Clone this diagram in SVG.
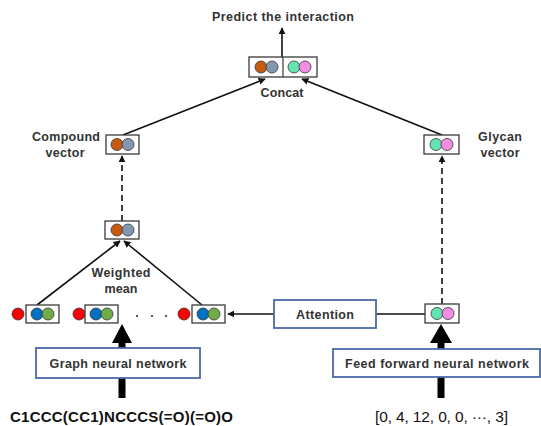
<svg xmlns="http://www.w3.org/2000/svg" width="541" height="426" viewBox="0 0 541 426">
<style>
text{font-family:"Liberation Sans",Arial,sans-serif;fill:#333;}
.lbl{font-size:12.5px;font-weight:bold;text-anchor:middle;}
.vbox{fill:#fff;stroke:#3a3a3a;stroke-width:1.3;}
.bbox{fill:#fff;stroke:#4a6aa8;stroke-width:1.8;}
.c{stroke:#333;stroke-width:0.8;}
.or{fill:#c55a11;}.bg{fill:#8497b0;}.mt{fill:#66e3b4;}.pk{fill:#f28de2;}
.rd{fill:#ff0000;}.bl{fill:#0070c0;}.gr{fill:#70ad47;}
.ln{stroke:#111;stroke-width:1.6;fill:none;}
.ds{stroke:#111;stroke-width:1.6;fill:none;stroke-dasharray:6,4;}
.thick{fill:#000;}
</style>
<defs>
<marker id="ah2" viewBox="0 0 10 10" refX="9" refY="5" markerWidth="7" markerHeight="7" orient="auto" markerUnits="userSpaceOnUse">
<path d="M0,0 L10,5 L0,10 z" fill="#111"/>
</marker>
</defs>

<g id="connectors">
<line class="ln" x1="282" y1="57" x2="282" y2="28" marker-end="url(#ah2)"/>
<line class="ln" x1="123" y1="135" x2="265" y2="79" marker-end="url(#ah2)"/>
<line class="ln" x1="442" y1="135" x2="302" y2="79" marker-end="url(#ah2)"/>
<line class="ds" x1="122" y1="221" x2="122" y2="156" marker-end="url(#ah2)"/>
<line class="ds" x1="442" y1="304" x2="442" y2="156" marker-end="url(#ah2)"/>
<line class="ln" x1="37" y1="305" x2="120" y2="241" marker-end="url(#ah2)"/>
<line class="ln" x1="202" y1="305" x2="124" y2="241" marker-end="url(#ah2)"/>
<line class="ln" x1="274" y1="314" x2="228" y2="314" marker-end="url(#ah2)"/>
<line class="ln" x1="376" y1="314" x2="425" y2="314"/>
<path class="thick" d="M118.5,343 L118.5,398 L125.5,398 L125.5,343 L132,343 L122,324 L112,343 Z"/>
<path class="thick" d="M437.5,343 L437.5,398 L444.5,398 L444.5,343 L452,343 L441,324 L430,343 Z"/>
</g>

<g id="title"><text class="lbl" x="283" y="21" font-size="11.5" textLength="142">Predict the interaction</text></g>

<g id="concat">
<rect class="vbox" x="249" y="57" width="68" height="20"/>
<line x1="283" y1="57" x2="283" y2="77" stroke="#3a3a3a" stroke-width="1.2"/>
<circle class="c or" cx="261" cy="67" r="6"/>
<circle class="c bg" cx="272" cy="67" r="6"/>
<circle class="c mt" cx="294" cy="67" r="6"/>
<circle class="c pk" cx="305" cy="67" r="6"/>
<text class="lbl" x="282" y="97" textLength="43">Concat</text>
</g>

<g id="compound-vector">
<rect class="vbox" x="106" y="135" width="33" height="19"/>
<circle class="c or" cx="117" cy="144.5" r="6"/>
<circle class="c bg" cx="128" cy="144.5" r="6"/>
<text class="lbl" x="66" y="140.5" textLength="68">Compound</text>
<text class="lbl" x="65" y="156.5" textLength="39">vector</text>
</g>

<g id="glycan-vector">
<rect class="vbox" x="424" y="135" width="35" height="19"/>
<circle class="c mt" cx="436" cy="144.5" r="6"/>
<circle class="c pk" cx="447" cy="144.5" r="6"/>
<text class="lbl" x="500" y="140.5" textLength="44">Glycan</text>
<text class="lbl" x="500" y="156.5" textLength="39">vector</text>
</g>

<g id="weighted-mean">
<rect class="vbox" x="105" y="221" width="34" height="18"/>
<circle class="c or" cx="117" cy="230" r="6"/>
<circle class="c bg" cx="128" cy="230" r="6"/>
<text class="lbl" x="121" y="276.5" textLength="59">Weighted</text>
<text class="lbl" x="121" y="292.5" textLength="33">mean</text>
</g>

<g id="atom1">
<circle class="c rd" cx="18" cy="314" r="6"/>
<rect class="vbox" x="26" y="305" width="33" height="18"/>
<circle class="c bl" cx="37" cy="314" r="6"/>
<circle class="c gr" cx="48" cy="314" r="6"/>
</g>
<g id="atom2">
<circle class="c rd" cx="79" cy="314" r="6"/>
<rect class="vbox" x="85" y="305" width="33" height="18"/>
<circle class="c bl" cx="96" cy="314" r="6"/>
<circle class="c gr" cx="107" cy="314" r="6"/>
</g>
<g id="dots">
<circle cx="137" cy="316" r="1.1" fill="#333"/>
<circle cx="152" cy="316" r="1.1" fill="#333"/>
<circle cx="166" cy="316" r="1.1" fill="#333"/>
</g>
<g id="atomN">
<circle class="c rd" cx="184" cy="314" r="6"/>
<rect class="vbox" x="192" y="305" width="33" height="18"/>
<circle class="c bl" cx="203" cy="314" r="6"/>
<circle class="c gr" cx="214" cy="314" r="6"/>
</g>

<g id="attention">
<rect class="bbox" x="274" y="300" width="102" height="28"/>
<text class="lbl" x="325" y="318.5" textLength="58">Attention</text>
</g>

<g id="glycan-input-vector">
<rect class="vbox" x="425" y="304" width="34" height="19"/>
<circle class="c mt" cx="437" cy="313.5" r="6"/>
<circle class="c pk" cx="448" cy="313.5" r="6"/>
</g>

<g id="gnn">
<rect class="bbox" x="36" y="348" width="164" height="30"/>
<text class="lbl" x="118" y="368" style="font-weight:600" textLength="137">Graph neural network</text>
</g>

<g id="ffnn">
<rect class="bbox" x="333" y="349" width="207" height="28"/>
<text class="lbl" x="437" y="368" style="font-weight:600" textLength="184">Feed forward neural network</text>
</g>

<g id="smiles"><text x="10" y="422" font-size="15" style="font-weight:600;fill:#111" textLength="223">C1CCC(CC1)NCCCS(=O)(=O)O</text></g>
<g id="vector-input"><text x="375" y="422" font-size="15.5" style="fill:#111" textLength="133">[0, 4, 12, 0, 0, ···, 3]</text></g>
</svg>
